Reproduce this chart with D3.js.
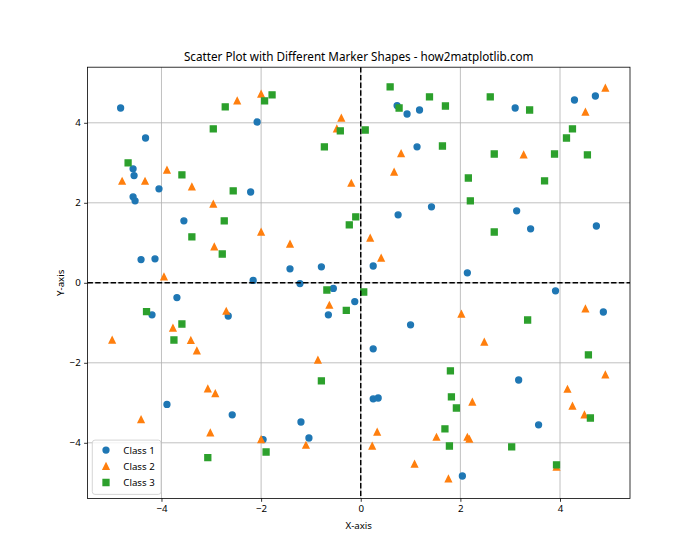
<!DOCTYPE html>
<html>
<head>
<meta charset="utf-8">
<script src="https://cdn.jsdelivr.net/npm/d3@7"></script>
<style>
  body { margin: 0; background: #fff; }
  text { font-family: "Noto Sans", "DejaVu Sans", sans-serif; }
</style>
</head>
<body>
<div id="chart"></div>
<script>
// points, [x, y]
const class1 = [
  [-4.82, 4.37], [-4.32, 3.62], [-4.57, 2.85], [-4.55, 2.68], [-4.05, 2.35],
  [-4.57, 2.15], [-4.53, 2.05], [-3.55, 1.55], [-4.41, 0.58], [-4.13, 0.60],
  [-2.08, 4.02], [-2.21, 2.27], [-1.42, 0.35], [-0.79, 0.40], [-2.16, 0.06],
  [0.73, 4.43], [0.93, 4.22], [1.18, 4.32], [1.13, 3.40], [1.42, 1.90],
  [0.75, 1.70], [0.25, 0.42], [2.14, 0.25], [4.71, 4.67], [4.29, 4.57],
  [3.10, 4.37], [3.13, 1.80], [3.41, 1.35], [4.73, 1.42], [-3.69, -0.37],
  [-4.19, -0.80], [-3.89, -3.04], [-1.22, -0.02], [-0.55, -0.14], [-0.12, -0.47],
  [-0.65, -0.80], [-2.66, -0.83], [-2.58, -3.30], [-1.20, -3.48], [-1.04, -3.88],
  [-1.96, -3.92], [1.00, -1.05], [0.25, -1.65], [0.25, -2.90], [0.35, -2.88],
  [2.04, -4.83], [3.91, -0.20], [4.87, -0.73], [3.17, -2.43], [3.57, -3.55]
];
const class2 = [
  [-3.89, 2.82], [-4.79, 2.54], [-4.33, 2.54], [-3.39, 2.40], [-2.96, 1.97],
  [-2.94, 0.90], [-3.95, 0.15], [-2.48, 4.55], [-2.00, 4.72], [-0.39, 4.12],
  [-0.48, 3.85], [-0.19, 2.49], [-2.00, 1.27], [-1.42, 0.97], [0.81, 3.23],
  [0.67, 2.77], [0.19, 1.12], [0.41, 0.62], [4.91, 4.87], [4.51, 4.27],
  [3.27, 3.20], [-3.77, -1.13], [-4.99, -1.43], [-3.41, -1.44], [-3.29, -1.70],
  [-3.07, -2.65], [-2.92, -2.77], [-4.41, -3.42], [-3.02, -3.75], [-0.63, -0.56],
  [-2.70, -0.71], [-0.86, -1.93], [-1.10, -4.06], [-2.00, -3.92], [2.02, -0.78],
  [2.48, -1.48], [2.24, -2.98], [0.33, -3.73], [1.52, -3.86], [2.14, -3.86],
  [2.18, -3.91], [0.23, -4.08], [1.08, -4.53], [1.76, -4.90], [4.51, -0.65],
  [4.91, -2.30], [4.15, -2.66], [4.25, -3.08], [4.49, -3.30], [3.93, -4.61]
];
const class3 = [
  [-2.72, 4.40], [-2.96, 3.85], [-4.67, 3.00], [-3.59, 2.70], [-2.74, 1.55],
  [-3.39, 1.15], [-2.78, 0.72], [-1.93, 4.55], [-1.78, 4.70], [-0.41, 3.80],
  [-0.73, 3.40], [-2.56, 2.30], [-0.10, 1.65], [-0.23, 1.45], [0.59, 4.90],
  [0.77, 4.37], [1.38, 4.65], [1.70, 4.42], [2.60, 4.65], [0.09, 3.82],
  [1.64, 3.42], [2.68, 3.22], [2.16, 2.62], [2.20, 2.05], [2.68, 1.27],
  [3.39, 4.32], [4.25, 3.85], [4.13, 3.62], [3.89, 3.22], [4.55, 3.20],
  [3.69, 2.55], [-4.30, -0.72], [-3.59, -1.03], [-3.75, -1.43], [-3.07, -4.37],
  [-0.68, -0.18], [-0.29, -0.69], [-0.79, -2.45], [-1.90, -4.23], [0.06, -0.23],
  [1.80, -2.20], [1.82, -2.85], [1.92, -3.13], [1.69, -3.65], [1.78, -4.08],
  [3.35, -0.93], [4.57, -1.80], [4.61, -3.38], [3.03, -4.10], [3.93, -4.55]
];
const classNames = ["Class 1", "Class 2", "Class 3"];
const xTicks = [-4, -2, 0, 2, 4];
const yTicks = [-4, -2, 0, 2, 4];

const W = 700, H = 560;
const margin = {top: 67.2, right: 70, bottom: 61.6, left: 87.5};
const width = W - margin.left - margin.right;
const height = H - margin.top - margin.bottom;

const series = [
  {name: classNames[0], data: class1, color: "#1f77b4", shape: d3.symbolCircle},
  {name: classNames[1], data: class2, color: "#ff7f0e", shape: "tri"},
  {name: classNames[2], data: class3, color: "#2ca02c", shape: d3.symbolSquare}
];

// matplotlib style 5% padding on the data extent
const all = class1.concat(class2, class3);
function padded(ext) {
  const p = (ext[1] - ext[0]) * 0.05;
  return [ext[0] - p, ext[1] + p];
}
const xScale = d3.scaleLinear().domain(padded(d3.extent(all, d => d[0]))).range([0, width]);
const yScale = d3.scaleLinear().domain(padded(d3.extent(all, d => d[1]))).range([height, 0]);

const svg = d3.select("#chart").append("svg")
  .attr("width", W).attr("height", H)
  .append("g")
  .attr("transform", `translate(${margin.left},${margin.top})`);

const fmt = d => (d < 0 ? "\u2212" + Math.abs(d) : "" + d);

// grid
svg.append("g").selectAll("line").data(xTicks).join("line")
  .attr("x1", d => xScale(d)).attr("x2", d => xScale(d))
  .attr("y1", 0).attr("y2", height)
  .attr("stroke", "#b0b0b0").attr("stroke-width", 0.8);
svg.append("g").selectAll("line").data(yTicks).join("line")
  .attr("y1", d => yScale(d)).attr("y2", d => yScale(d))
  .attr("x1", 0).attr("x2", width)
  .attr("stroke", "#b0b0b0").attr("stroke-width", 0.8);

// marker size: 6pt at 70 dpi, plus the face-coloured edge
const ms = 6 * 70 / 72;
const mk = {
  circle: d3.symbol().type(d3.symbolCircle).size(Math.PI * ms * ms / 4),
  square: d3.symbol().type(d3.symbolSquare).size(ms * ms)
};
function triPath(s) {
  const h = s / 2;
  return `M0,${-h}L${h},${h}L${-h},${h}Z`;
}
function markerPath(shape) {
  if (shape === "tri") return triPath(ms);
  if (shape === d3.symbolCircle) return mk.circle();
  return mk.square();
}

series.forEach(s => {
  svg.append("g").selectAll("path").data(s.data).join("path")
    .attr("d", markerPath(s.shape))
    .attr("transform", d => `translate(${xScale(d[0])},${yScale(d[1])})`)
    .attr("fill", s.color)
    .attr("stroke", s.color)
    .attr("stroke-width", 1.45);
});

// dashed zero lines
svg.append("line")
  .attr("x1", 0).attr("x2", width)
  .attr("y1", yScale(0)).attr("y2", yScale(0))
  .attr("stroke", "#000").attr("stroke-width", 1.45)
  .attr("stroke-dasharray", "5.4,2.3");
svg.append("line")
  .attr("y1", 0).attr("y2", height)
  .attr("x1", xScale(0)).attr("x2", xScale(0))
  .attr("stroke", "#000").attr("stroke-width", 1.45)
  .attr("stroke-dasharray", "5.4,2.3");

// axes
const xAxis = d3.axisBottom(xScale).tickValues(xTicks).tickFormat(fmt).tickSize(3.4).tickPadding(3.4);
const yAxis = d3.axisLeft(yScale).tickValues(yTicks).tickFormat(fmt).tickSize(3.4).tickPadding(3.4);
const gx = svg.append("g").attr("transform", `translate(0,${height})`).call(xAxis);
const gy = svg.append("g").call(yAxis);
[gx, gy].forEach(g => {
  g.select(".domain").remove();
  g.selectAll(".tick line").attr("stroke", "#000").attr("stroke-width", 0.8);
  g.selectAll(".tick text").attr("fill", "#000")
    .style("font-family", "'Noto Sans', sans-serif").style("font-size", "9.7px");
});

// frame
svg.append("rect")
  .attr("width", width).attr("height", height)
  .attr("fill", "none").attr("stroke", "#000").attr("stroke-width", 0.8);

// title and axis labels
svg.append("text")
  .attr("x", width / 2).attr("y", -6.5)
  .attr("text-anchor", "middle")
  .style("font-size", "11.7px")
  .text("Scatter Plot with Different Marker Shapes - how2matplotlib.com");
svg.append("text")
  .attr("x", width / 2).attr("y", height + 31)
  .attr("text-anchor", "middle")
  .style("font-size", "9.7px")
  .text("X-axis");
svg.append("text")
  .attr("transform", `translate(-24,${height / 2}) rotate(-90)`)
  .attr("text-anchor", "middle")
  .style("font-size", "9.7px")
  .text("Y-axis");

// legend (lower left)
const lg = svg.append("g").attr("transform", `translate(4.8,${height - 58.3})`);
lg.append("rect")
  .attr("width", 68.7).attr("height", 54.3)
  .attr("rx", 2.7)
  .attr("fill", "#fff").attr("fill-opacity", 0.8)
  .attr("stroke", "#cccccc").attr("stroke-width", 0.8);
series.forEach((s, i) => {
  const yy = 10 + i * 16.2;
  lg.append("path")
    .attr("d", markerPath(s.shape))
    .attr("transform", `translate(13.7,${yy})`)
    .attr("fill", s.color).attr("stroke", s.color).attr("stroke-width", 1.45);
  lg.append("text")
    .attr("x", 31).attr("y", yy + 3.5)
    .style("font-size", "9.7px")
    .text(s.name);
});
</script>
</body>
</html>
